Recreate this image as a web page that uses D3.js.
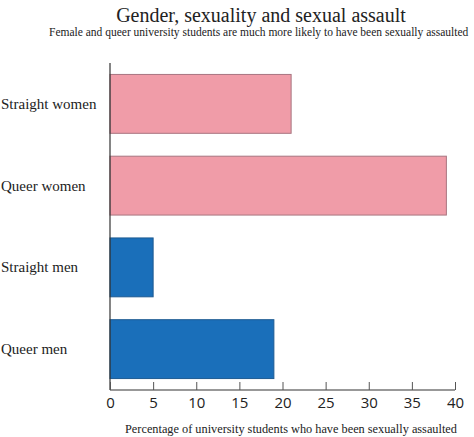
<!DOCTYPE html>
<html><head><meta charset="utf-8">
<script src="https://cdn.jsdelivr.net/npm/d3@7"></script>
<style>body{margin:0;background:#fff;}svg{display:block;}</style>
</head><body>
<script>
const categories = ["Straight women", "Queer women", "Straight men", "Queer men"];
const values = [21, 39, 5, 19];
const groups = ["women", "women", "men", "men"];
const tickValues = [0, 5, 10, 15, 20, 25, 30, 35, 40];
const title = "Gender, sexuality and sexual assault";
const subtitle = "Female and queer university students are much more likely to have been sexually assaulted";
const xLabel = "Percentage of university students who have been sexually assaulted";

const W = 474, H = 437;
const m = {left: 110, right: 19, top: 63, bottom: 47};
const svg = d3.select("body").append("svg").attr("width", W).attr("height", H);

const x = d3.scaleLinear().domain([0, 40]).range([m.left, W - m.right]);
const y = d3.scaleBand().domain(categories).range([m.top, H - m.bottom]).paddingInner(0.28).paddingOuter(0.14);
const fill = d3.scaleOrdinal().domain(["women", "men"]).range(["#f09ca8", "#1a6fba"]);
const stroke = d3.scaleOrdinal().domain(["women", "men"]).range(["#a87580", "#1d5a92"]);

const serif = "'Liberation Serif', 'DejaVu Serif', serif";

svg.append("text").attr("x", 261).attr("y", 22).attr("text-anchor", "middle")
  .attr("font-family", serif).attr("font-size", 20).attr("fill", "#222").text(title);
svg.append("text").attr("x", 49).attr("y", 36).attr("text-anchor", "start")
  .attr("font-family", serif).attr("font-size", 11.5).attr("fill", "#222").text(subtitle);

svg.selectAll("rect.bar").data(categories).join("rect").attr("class", "bar")
  .attr("x", x(0)).attr("y", d => y(d))
  .attr("width", (d, i) => x(values[i]) - x(0)).attr("height", y.bandwidth())
  .attr("fill", (d, i) => fill(groups[i])).attr("stroke", (d, i) => stroke(groups[i])).attr("stroke-width", 1);

// y axis line and labels
svg.append("line").attr("x1", x(0)).attr("x2", x(0)).attr("y1", m.top).attr("y2", H - m.bottom)
  .attr("stroke", "#333").attr("stroke-width", 1.2);
svg.selectAll("text.cat").data(categories).join("text").attr("class", "cat")
  .attr("x", 1).attr("y", d => y(d) + y.bandwidth() / 2 + 5).attr("text-anchor", "start")
  .attr("font-family", serif).attr("font-size", 15).attr("fill", "#222").text(d => d);

// x axis
const xAxis = d3.axisTop(x).tickValues(tickValues).tickSize(8).tickFormat(d3.format("d"));
const gx = svg.append("g").attr("transform", `translate(0,${H - m.bottom})`).call(xAxis);
gx.select(".domain").attr("d", `M${x(0)},0H${x(40)}`).attr("stroke", "#333").attr("stroke-width", 1.2);
gx.selectAll(".tick line").attr("stroke", "#555");
gx.selectAll(".tick text").attr("y", 7).attr("dy", "0.71em")
  .attr("font-family", "'Open Sans', 'DejaVu Sans', sans-serif").attr("font-size", 15).attr("fill", "#222");

svg.append("text").attr("x", 291).attr("y", 433).attr("text-anchor", "middle")
  .attr("font-family", serif).attr("font-size", 12.3).attr("fill", "#222").text(xLabel);
</script>
</body></html>
